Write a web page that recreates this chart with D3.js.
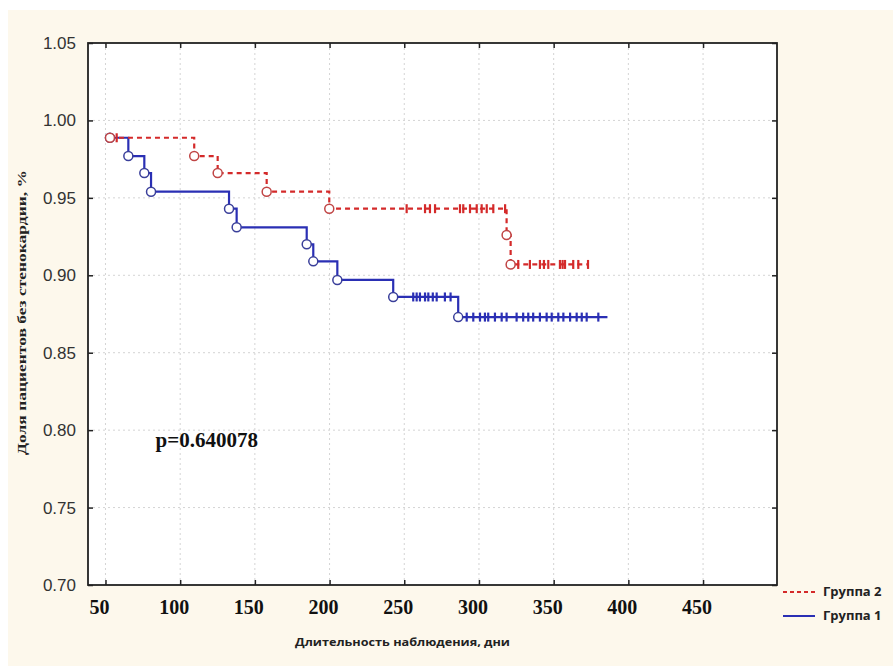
<!DOCTYPE html>
<html>
<head>
<meta charset="utf-8">
<script src="https://cdn.jsdelivr.net/npm/d3@7"></script>
<style>
  body { margin: 0; background: #fff; }
  svg { display: block; }
</style>
</head>
<body>
<div class="container"></div>
<script>
// Kaplan-Meier curves
const xTicks = [50, 100, 150, 200, 250, 300, 350, 400, 450];
const yTicks = [0.70, 0.75, 0.80, 0.85, 0.90, 0.95, 1.00, 1.05];

// Группа 2 (red, dashed)
const g2Times = [53, 109.4, 125.1, 157.9, 199.8, 318.5, 321.2];
const g2Surv = [0.9888, 0.977, 0.966, 0.954, 0.943, 0.926, 0.907];
const g2End = 373;
const g2Censored = [57.5, 251.6, 263.9, 267.2, 270.6, 287.3, 289.5, 294, 298.5, 301.8, 305.2,
  309.6, 317.5, 326.3, 334.1, 340.8, 343.5, 346.4, 354.2, 356, 357.6, 363.1, 366.5, 373];

// Группа 1 (blue, solid)
const g1Times = [53, 65.3, 76, 80.5, 132.7, 137.8, 184.7, 189.1, 205.2, 242.6, 286.1];
const g1Surv = [0.9888, 0.977, 0.966, 0.954, 0.943, 0.931, 0.920, 0.909, 0.897, 0.886, 0.873];
const g1End = 386;
const g1Censored = [256, 258.3, 260.5, 263.9, 266.1, 269.1, 271.7, 277.2, 281,
  291.8, 296.2, 300.7, 304, 306.2, 310.7, 315.2, 318.5, 325.2, 329.6, 333, 336.3, 340.8,
  345.3, 348.7, 353.1, 356.5, 361, 365.4, 368.8, 372.1, 379.9];

const pLabel = "p=0.640078";

const width = 893, height = 666;
const plot = { left: 88, top: 43, right: 777, bottom: 585 };

const svg = d3.select(".container").append("svg")
  .attr("width", width)
  .attr("height", height);

svg.append("rect")
  .attr("x", 8).attr("y", 10)
  .attr("width", width - 8).attr("height", height - 10)
  .attr("fill", "#fdf8ec");

const xScale = d3.scaleLinear().domain([38.3, 499.5]).range([plot.left, plot.right]);
const yScale = d3.scaleLinear().domain([0.70, 1.05]).range([plot.bottom, plot.top]);

svg.append("rect")
  .attr("x", plot.left).attr("y", plot.top)
  .attr("width", plot.right - plot.left).attr("height", plot.bottom - plot.top)
  .attr("fill", "#fff");

// grid
const grid = svg.append("g").attr("stroke", "#d4d4d4").attr("stroke-dasharray", "2,3");
grid.selectAll(".gx").data(xTicks).enter().append("line")
  .attr("x1", d => xScale(d)).attr("x2", d => xScale(d))
  .attr("y1", plot.top).attr("y2", plot.bottom);
grid.selectAll(".gy").data(yTicks.slice(1, -1)).enter().append("line")
  .attr("x1", plot.left).attr("x2", plot.right)
  .attr("y1", d => yScale(d)).attr("y2", d => yScale(d));

// axes with inward ticks
const axisStyle = g => {
  g.select(".domain").remove();
  g.selectAll(".tick line").attr("stroke", "#222").attr("stroke-width", 1.5);
};
svg.append("g").attr("transform", `translate(0,${plot.bottom})`)
  .call(d3.axisBottom(xScale).tickValues(xTicks).tickSizeInner(-5).tickFormat(""))
  .call(axisStyle);
svg.append("g").attr("transform", `translate(0,${plot.top})`)
  .call(d3.axisTop(xScale).tickValues(xTicks).tickSizeInner(-5).tickFormat(""))
  .call(axisStyle);
svg.append("g").attr("transform", `translate(${plot.left},0)`)
  .call(d3.axisLeft(yScale).tickValues(yTicks).tickSizeInner(-5).tickFormat(""))
  .call(axisStyle);
svg.append("g").attr("transform", `translate(${plot.right},0)`)
  .call(d3.axisRight(yScale).tickValues(yTicks).tickSizeInner(-5).tickFormat(""))
  .call(axisStyle);

svg.append("rect")
  .attr("x", plot.left).attr("y", plot.top)
  .attr("width", plot.right - plot.left).attr("height", plot.bottom - plot.top)
  .attr("fill", "none").attr("stroke", "#222").attr("stroke-width", 1.8);

// tick labels
svg.append("g").selectAll("text").data(xTicks).enter().append("text")
  .attr("x", d => xScale(d) - 6)
  .attr("y", 614)
  .attr("text-anchor", "middle")
  .attr("font-family", "Liberation Serif, serif")
  .attr("font-weight", "bold")
  .attr("font-size", 20)
  .attr("fill", "#111")
  .text(d => d);
svg.append("g").selectAll("text").data(yTicks).enter().append("text")
  .attr("x", 76)
  .attr("y", d => yScale(d) + 6)
  .attr("text-anchor", "end")
  .attr("font-family", "Liberation Sans, Arial, sans-serif")
  .attr("font-size", 17)
  .attr("fill", "#333")
  .text(d => d.toFixed(2));

// axis titles
svg.append("text")
  .attr("x", 295).attr("y", 646)
  .attr("font-family", "Open Sans, sans-serif")
  .attr("font-weight", "bold")
  .attr("font-size", 11)
  .attr("textLength", 215).attr("lengthAdjust", "spacingAndGlyphs")
  .attr("fill", "#222")
  .text("Длительность наблюдения, дни");
svg.append("text")
  .attr("transform", "translate(26,455) rotate(-90)")
  .attr("font-family", "Liberation Serif, serif")
  .attr("font-weight", "bold")
  .attr("font-size", 13)
  .attr("textLength", 285).attr("lengthAdjust", "spacingAndGlyphs")
  .attr("fill", "#222")
  .text("Доля пациентов без стенокардии, %");

svg.append("text")
  .attr("x", xScale(83.5)).attr("y", yScale(0.789))
  .attr("font-family", "Liberation Serif, serif")
  .attr("font-weight", "bold")
  .attr("font-size", 21)
  .attr("fill", "#111")
  .text(pLabel);

// curves
function drawGroup(times, surv, end, censored, color, dash, circleColor) {
  const pts = times.map((t, i) => [t, surv[i]]);
  pts.push([end, surv[surv.length - 1]]);
  const line = d3.line()
    .x(d => xScale(d[0]))
    .y(d => yScale(d[1]))
    .curve(d3.curveStepAfter);
  const g = svg.append("g");
  g.append("path")
    .attr("d", line(pts))
    .attr("fill", "none")
    .attr("stroke", color)
    .attr("stroke-width", 2.2)
    .attr("stroke-dasharray", dash);
  const levelAt = t => {
    let s = surv[0];
    times.forEach((tt, i) => { if (tt <= t) s = surv[i]; });
    return s;
  };
  g.selectAll(".cens").data(censored).enter().append("line")
    .attr("x1", d => xScale(d)).attr("x2", d => xScale(d))
    .attr("y1", d => yScale(levelAt(d)) - 4.5)
    .attr("y2", d => yScale(levelAt(d)) + 4.5)
    .attr("stroke", color)
    .attr("stroke-width", 2.2);
  g.selectAll("circle").data(pts.slice(0, -1)).enter().append("circle")
    .attr("cx", d => xScale(d[0]))
    .attr("cy", d => yScale(d[1]))
    .attr("r", 4.5)
    .attr("fill", "#fff")
    .attr("stroke", circleColor)
    .attr("stroke-width", 1.5);
}

drawGroup(g1Times, g1Surv, g1End, g1Censored, "#2a2fb4", null, "#3a3f9a");
drawGroup(g2Times, g2Surv, g2End, g2Censored, "#d42a2a", "5,4", "#c04545");

// legend
const legend = [
  { label: "Группа 2", color: "#d42a2a", dash: "4,3", y: 592 },
  { label: "Группа 1", color: "#2a2fb4", dash: null, y: 616 }
];
const lg = svg.append("g").selectAll("g").data(legend).enter().append("g");
lg.append("line")
  .attr("x1", 783).attr("x2", 815)
  .attr("y1", d => d.y).attr("y2", d => d.y)
  .attr("stroke", d => d.color)
  .attr("stroke-width", 2)
  .attr("stroke-dasharray", d => d.dash);
lg.append("text")
  .attr("x", 823).attr("y", d => d.y + 4)
  .attr("font-family", "Open Sans, sans-serif")
  .attr("font-weight", "bold")
  .attr("font-size", 13)
  .attr("fill", "#222")
  .text(d => d.label);
</script>
</body>
</html>
